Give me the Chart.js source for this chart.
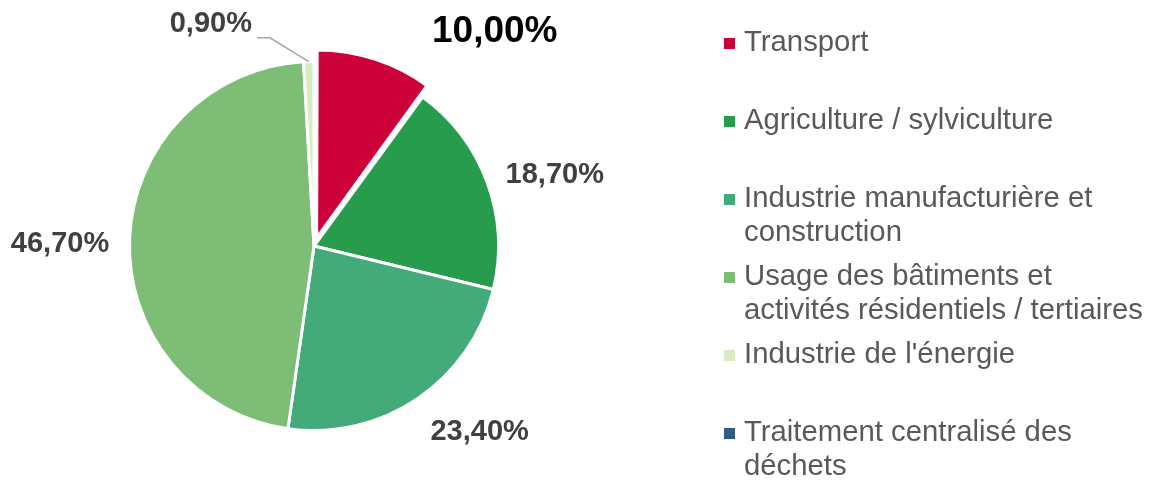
<!DOCTYPE html>
<html>
<head>
<meta charset="utf-8">
<script src="https://cdn.jsdelivr.net/npm/chart.js@4"></script>
<style>
  html, body { margin: 0; background: #fff; }
  #wrap { width: 1158px; height: 480px; }
</style>
</head>
<body>
<div id="wrap"><canvas id="pieChart"></canvas></div>
<script>
// data
const categories = [
  "Transport",
  "Agriculture / sylviculture",
  "Industrie manufacturière et construction",
  "Usage des bâtiments et activités résidentiels / tertiaires",
  "Industrie de l'énergie",
  "Traitement centralisé des déchets"
];
const shares = [10.0, 18.7, 23.4, 46.7, 0.9, 0];
const colors = ["#CE0039", "#279C4C", "#43AA7A", "#7DBD75", "#D9EAC4", "#2F5C7F"];

// label placement: [angle from top in degrees, distance from centre]
const labelSpots = [[40.2, 280], [73.6, 251], [138.3, 249], [270.4, 254], [335.1, 245], null];

const fmt = v => v.toFixed(2).replace(".", ",") + "%";

// percentages around the pie
const sliceLabels = {
  id: "sliceLabels",
  afterDatasetsDraw(chart) {
    const ctx = chart.ctx;
    const meta = chart.getDatasetMeta(0);
    meta.data.forEach((arc, i) => {
      const v = shares[i];
      if (!v || !labelSpots[i]) return;
      const { x, y, outerRadius, startAngle, endAngle } =
        arc.getProps(["x", "y", "outerRadius", "startAngle", "endAngle"], true);
      const a = labelSpots[i][0] * Math.PI / 180;
      const d = labelSpots[i][1];
      const lx = x + Math.sin(a) * d;
      const ly = y - Math.cos(a) * d;
      const big = i === 0;
      ctx.save();
      ctx.font = "bold " + (big ? 37 : 29) + "px 'Liberation Sans', Arial, sans-serif";
      ctx.fillStyle = big ? "#000000" : "#404040";
      ctx.textAlign = "center";
      ctx.textBaseline = "middle";
      const txt = fmt(v);
      ctx.fillText(txt, lx, ly);
      // leader line for the thin slice
      if (i === 4) {
        const w = ctx.measureText(txt).width;
        const sx = lx + w / 2 + 5, sy = ly + 14;
        const mid = (startAngle + endAngle) / 2;
        ctx.strokeStyle = "#a6a6a6";
        ctx.lineWidth = 1.5;
        ctx.beginPath();
        ctx.moveTo(sx, sy);
        ctx.lineTo(sx + 13, sy);
        ctx.lineTo(x + Math.cos(mid) * outerRadius, y + Math.sin(mid) * outerRadius);
        ctx.stroke();
      }
      ctx.restore();
    });
  }
};

// legend on the right, with wrapped text
const sideLegend = {
  id: "sideLegend",
  afterDraw(chart) {
    const ctx = chart.ctx;
    const x0 = 724, tx = 744, maxW = 410;
    ctx.save();
    ctx.font = "29.3px 'Liberation Sans', Arial, sans-serif";
    ctx.textBaseline = "middle";
    chart.data.labels.forEach((label, i) => {
      const y = 43 + i * 78;
      ctx.fillStyle = colors[i];
      ctx.fillRect(x0, y - 5, 11, 11);
      // wrap words
      const lines = [];
      let cur = "";
      label.split(" ").forEach(word => {
        const test = cur ? cur + " " + word : word;
        if (ctx.measureText(test).width > maxW && cur) {
          lines.push(cur);
          cur = word;
        } else cur = test;
      });
      lines.push(cur);
      ctx.fillStyle = "#595959";
      lines.forEach((ln, k) => ctx.fillText(ln, tx, y + k * 34));
    });
    ctx.restore();
  }
};

new Chart(document.getElementById("pieChart"), {
  type: "pie",
  data: {
    labels: categories,
    datasets: [{
      data: shares,
      backgroundColor: colors,
      borderColor: "#ffffff",
      borderWidth: 3,
      // chart.js moves the arc by roughly a third of this for a 36° slice
      offset: [34, 0, 0, 0, 0, 0]
    }]
  },
  options: {
    responsive: true,
    maintainAspectRatio: false,
    animation: false,
    events: [],
    radius: 184.5,
    layout: { padding: { left: 114, right: 644, top: 46, bottom: 34 } },
    plugins: {
      legend: { display: false },
      tooltip: { enabled: false }
    }
  },
  plugins: [sliceLabels, sideLegend]
});
</script>
</body>
</html>
